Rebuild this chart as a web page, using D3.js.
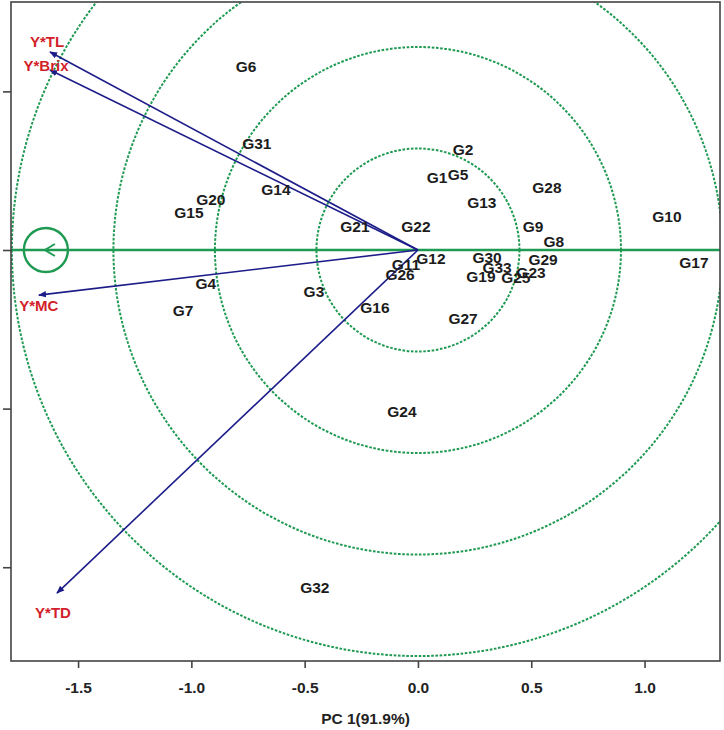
<!DOCTYPE html>
<html>
<head>
<meta charset="utf-8">
<script src="https://cdn.jsdelivr.net/npm/d3@7"></script>
<style>
  body { margin: 0; background: #fff; }
  text { font-family: Arial, "Liberation Sans", sans-serif; font-weight: bold; }
</style>
</head>
<body>
<svg id="chart" width="724" height="730"></svg>
<script>
// genotype scores (PC1, PC2)
var genotypes = ["G1","G2","G3","G4","G5","G6","G7","G8","G9","G10","G11","G12","G13","G14","G15","G16","G17",
  "G19","G20","G21","G22","G23","G24","G25","G26","G27","G28","G29","G30","G31","G32","G33"];
var genoPC1 = [0.084,0.199,-0.459,-0.936,0.177,-0.759,-1.037,0.600,0.508,1.099,-0.053,0.057,0.282,-0.627,-1.011,-0.190,1.218,
  0.278,-0.914,-0.278,-0.009,0.499,-0.071,0.432,-0.079,0.199,0.569,0.552,0.305,-0.711,-0.455,0.349];
var genoPC2 = [0.322,0.446,-0.181,-0.146,0.335,0.812,-0.265,0.040,0.102,0.146,-0.062,-0.035,0.212,0.269,0.168,-0.252,-0.057,
  -0.115,0.225,0.106,0.106,-0.097,-0.711,-0.119,-0.106,-0.300,0.278,-0.040,-0.031,0.472,-1.487,-0.075];

// environment / trait vectors
var traits = ["Y*TL","Y*Brix","Y*MC","Y*TD"];
var traitPC1 = [-1.624,-1.624,-1.673,-1.593];
var traitPC2 = [0.874,0.794,-0.199,-1.514];

// concentric circles around the ideal point
var ringRadii = [0.448,0.896,1.344,1.792];
var aecMarkerX = -1.642;

var xTicks = [-1.5,-1.0,-0.5,0.0,0.5,1.0];
var yTicks = [0.7,0.0,-0.7,-1.4];
var xTitle = "PC 1(91.9%)";

// layout
var padL = 11, padR = 720, padT = 2, padB = 661;
var xMin = -1.796, xMax = 1.333;
var pxPerUnit = (padR - padL) / (xMax - xMin);
var yMax = 248 / pxPerUnit, yMin = yMax - (padB - padT) / pxPerUnit;

var x = d3.scaleLinear().domain([xMin, xMax]).range([padL, padR]);
var y = d3.scaleLinear().domain([yMin, yMax]).range([padB, padT]);

var svg = d3.select("#chart");

var green = "#1f9a52", navy = "#1d1d8a", red = "#d21f2b";

var defs = svg.append("defs");
defs.append("clipPath").attr("id", "clip")
  .append("rect").attr("x", padL).attr("y", padT).attr("width", padR - padL).attr("height", padB - padT);

defs.append("marker")
  .attr("id", "arrow").attr("viewBox", "0 0 10 10").attr("refX", 9).attr("refY", 5)
  .attr("markerWidth", 8).attr("markerHeight", 8).attr("markerUnits", "userSpaceOnUse").attr("orient", "auto")
  .append("path").attr("d", "M0,1 L10,5 L0,9 Z").attr("fill", navy);

var plot = svg.append("g").attr("clip-path", "url(#clip)");

// dotted rings
plot.selectAll("circle.ring").data(ringRadii).enter().append("circle")
  .attr("class", "ring")
  .attr("cx", x(0)).attr("cy", y(0))
  .attr("r", function(d) { return x(d) - x(0); })
  .attr("fill", "none").attr("stroke", green).attr("stroke-width", 2)
  .attr("stroke-dasharray", "2.6,1.6");

// average environment axis
plot.append("line")
  .attr("x1", x(xMin)).attr("x2", x(xMax)).attr("y1", y(0)).attr("y2", y(0))
  .attr("stroke", green).attr("stroke-width", 2.4);

// AEC marker circle with arrow
var mr = 22;
plot.append("circle").attr("cx", x(aecMarkerX)).attr("cy", y(0)).attr("r", mr)
  .attr("fill", "none").attr("stroke", green).attr("stroke-width", 2.4);
plot.append("path")
  .attr("d", "M" + (x(aecMarkerX) + 9) + "," + (y(0) - 6) + " L" + (x(aecMarkerX) - 1) + "," + y(0) +
    " L" + (x(aecMarkerX) + 9) + "," + (y(0) + 6))
  .attr("fill", "none").attr("stroke", green).attr("stroke-width", 2);

// trait vectors
plot.selectAll("line.vec").data(traits).enter().append("line")
  .attr("class", "vec")
  .attr("x1", x(0)).attr("y1", y(0))
  .attr("x2", function(d, i) { return x(traitPC1[i]); })
  .attr("y2", function(d, i) { return y(traitPC2[i]); })
  .attr("stroke", navy).attr("stroke-width", 1.6)
  .attr("marker-end", "url(#arrow)");

// label offsets (px) relative to vector tips
var traitLabelOffset = { "Y*TL": [-3, -10], "Y*Brix": [-4, -4], "Y*MC": [0, 11], "Y*TD": [-4, 20] };
plot.selectAll("text.trait").data(traits).enter().append("text")
  .attr("class", "trait")
  .attr("x", function(d, i) { return x(traitPC1[i]) + traitLabelOffset[d][0]; })
  .attr("y", function(d, i) { return y(traitPC2[i]) + traitLabelOffset[d][1]; })
  .attr("dy", "0.36em").attr("text-anchor", "middle")
  .attr("fill", red).style("font-size", "15px")
  .text(function(d) { return d; });

// genotype labels
plot.selectAll("text.geno").data(genotypes).enter().append("text")
  .attr("class", "geno")
  .attr("x", function(d, i) { return x(genoPC1[i]); })
  .attr("y", function(d, i) { return y(genoPC2[i]); })
  .attr("dy", "0.36em").attr("text-anchor", "middle")
  .attr("fill", "#1c1c1c").style("font-size", "15.5px")
  .text(function(d) { return d; });

// axes
var xAxis = svg.append("g").attr("transform", "translate(0," + padB + ")")
  .call(d3.axisBottom(x).tickValues(xTicks).tickSize(7).tickPadding(14)
    .tickFormat(function(d) { return d.toFixed(1); }));
xAxis.select(".domain").remove();
xAxis.selectAll("line").attr("stroke", "#444").attr("stroke-width", 1.6);
xAxis.selectAll("text").attr("fill", "#222").style("font-size", "15.5px")
  .style("font-family", "Arial, 'Liberation Sans', sans-serif").style("font-weight", "bold");

var yAxis = svg.append("g").attr("transform", "translate(" + padL + ",0)")
  .call(d3.axisLeft(y).tickValues(yTicks).tickSize(8).tickFormat(""));
yAxis.select(".domain").remove();
yAxis.selectAll("line").attr("stroke", "#444").attr("stroke-width", 1.6);

// frame
svg.append("rect").attr("x", padL).attr("y", padT).attr("width", padR - padL).attr("height", padB - padT)
  .attr("fill", "none").attr("stroke", "#444").attr("stroke-width", 1.6);

svg.append("text").attr("x", (padL + padR) / 2).attr("y", 718).attr("dy", "0.36em")
  .attr("text-anchor", "middle").attr("fill", "#222").style("font-size", "15.5px")
  .text(xTitle);
</script>
</body>
</html>
